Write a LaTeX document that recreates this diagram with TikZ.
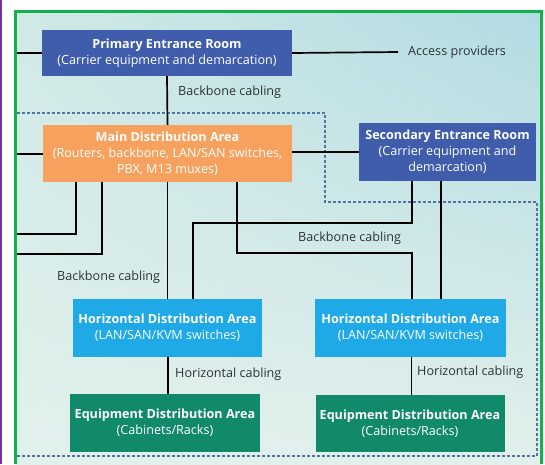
\documentclass[tikz,border=0pt]{standalone}
\usepackage{fontspec}
\setmainfont{Open Sans}
\usetikzlibrary{shadings}
\begin{document}
\begin{tikzpicture}[x=1pt,y=-1pt,
  box/.style={draw=none, text=white, align=center, inner sep=1pt,
    font=\fontsize{12.6}{16}\selectfont},
  lbl/.style={text=labelgray, inner sep=0pt, anchor=west,
    font=\fontsize{12.6}{16}\selectfont},
  cable/.style={draw=black, line width=1.7pt},
  boundary/.style={draw=bndblue, line width=1.3pt, dash pattern=on 3pt off 2pt}
]
\definecolor{perblue}{HTML}{3F5DAA}
\definecolor{mdaorange}{HTML}{F6A25E}
\definecolor{hdablue}{HTML}{1FA9E6}
\definecolor{edagreen}{HTML}{11896B}
\definecolor{labelgray}{HTML}{2E3236}
\definecolor{bndblue}{HTML}{4F74A6}
\definecolor{framegreen}{HTML}{12B14C}
\definecolor{edgepurple}{HTML}{7331A3}
\definecolor{bgul}{HTML}{D0E9E7}
\definecolor{bgur}{HTML}{B2DBE2}
\definecolor{bgll}{HTML}{E2F1EC}
\definecolor{bglr}{HTML}{E2F0EC}

\useasboundingbox (0,0) rectangle (545,464);
\fill[white] (0,0) rectangle (545,464);

% background panel
\shade[upper left=bgul, upper right=bgur, lower left=bgll, lower right=bglr]
  (16,12) rectangle (541,464);

% left edge rule and green frame
\draw[edgepurple, line width=2.4pt] (1.2,0) -- (1.2,464);
\draw[framegreen, line width=3pt] (15.5,464) -- (15.5,11.5) -- (541.5,11.5) -- (541.5,464);

% computer room boundary
\draw[boundary] (17,113) -- (325,113) -- (325,202) -- (537,202) -- (537,456) -- (17,456);

% rooms and areas
\node[box, fill=perblue, minimum width=250pt, minimum height=46pt] (per) at (167,53)
  {\textbf{Primary Entrance Room}\\(Carrier equipment and demarcation)};
\node[box, fill=mdaorange, minimum width=249pt, minimum height=57pt] (mda) at (167.5,153.5)
  {\textbf{Main Distribution Area}\\(Routers, backbone, LAN/SAN switches,\\PBX, M13 muxes)};
\node[box, fill=perblue, minimum width=177pt, minimum height=58pt] (ser) at (447.5,152)
  {\textbf{Secondary Entrance Room}\\(Carrier equipment and\\demarcation)};
\node[box, fill=hdablue, minimum width=189pt, minimum height=58pt] (hda1) at (167.5,328)
  {\textbf{Horizontal Distribution Area}\\(LAN/SAN/KVM switches)};
\node[box, fill=hdablue, minimum width=191pt, minimum height=58pt] (hda2) at (410.5,328)
  {\textbf{Horizontal Distribution Area}\\(LAN/SAN/KVM switches)};
\node[box, fill=edagreen, minimum width=190pt, minimum height=58pt] (eda1) at (165,423)
  {\textbf{Equipment Distribution Area}\\(Cabinets/Racks)};
\node[box, fill=edagreen, minimum width=189pt, minimum height=57pt] (eda2) at (410,423.5)
  {\textbf{Equipment Distribution Area}\\(Cabinets/Racks)};

% free ends and bends
\node[lbl, inner xsep=10pt] (ap) at (398,52) {Access providers};
\coordinate (outA) at (17,53);
\coordinate (outB) at (17,154);
\coordinate (outC) at (17,234);
\coordinate (outD) at (17,254);
\coordinate (bbA) at (237,253);
\coordinate (bbB) at (412,253);
\coordinate (bbC) at (412,223);
\coordinate (bbD) at (193,223);

% cabling
\draw[cable] (outA) -- (per.west);
\draw[cable] (per.east) -- (ap.west);
\draw[cable] (per.south) -- (mda.north);
\draw[cable] (outB) -- (mda.west |- outB);
\draw[cable] (mda.east |- ser.west) -- (ser.west);
\draw[cable] ([xshift=33pt]mda.south west) |- (outC);
\draw[cable] ([xshift=59pt]mda.south west) |- (outD);
\draw[cable] (mda.south) -- (mda.south |- hda1.north);
\draw[cable] (mda.south -| bbA) -- (bbA) -- (bbB) -- (hda2.north -| bbB);
\draw[cable] (ser.south -| bbC) -- (bbC) -- (bbD) -- (hda1.north -| bbD);
\draw[cable] ([xshift=-6.5pt]ser.south) -- ([xshift=-6.5pt]ser.south |- hda2.north);
\draw[cable] ([xshift=0.5pt]hda1.south) -- ([xshift=0.5pt]hda1.south |- eda1.north);
\draw[cable] ([xshift=1pt]hda2.south) -- ([xshift=1pt]hda2.south |- eda2.north);

% cable labels
\node[lbl] (lblA) at (178,92) {Backbone cabling};
\node[lbl] (lblB) at (298,238) {Backbone cabling};
\node[lbl] (lblC) at (57,277) {Backbone cabling};
\node[lbl] (lblD) at (175,374) {Horizontal cabling};
\node[lbl] (lblE) at (417,372) {Horizontal cabling};
\end{tikzpicture}
\end{document}
